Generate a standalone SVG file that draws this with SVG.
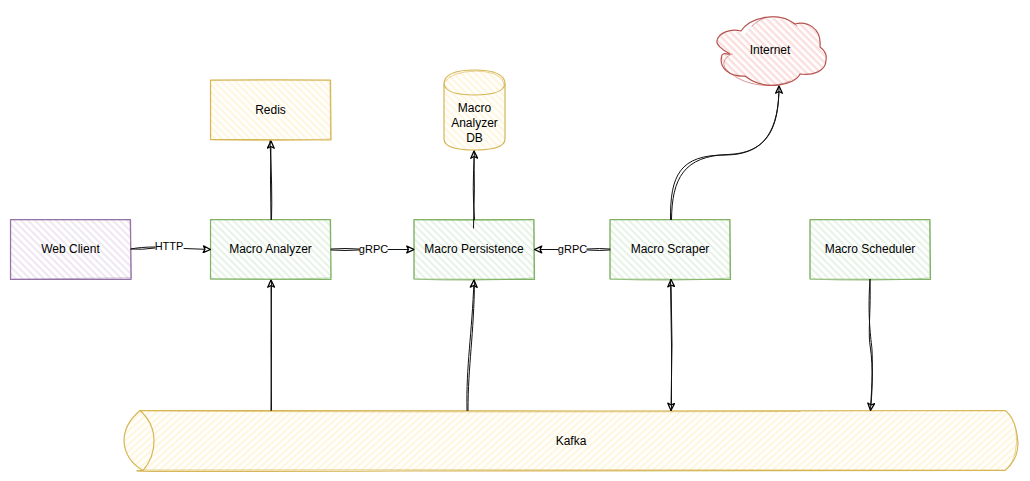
<svg xmlns="http://www.w3.org/2000/svg" width="1030" height="481" viewBox="0 0 1030 481">
<style>
text{font-family:"Liberation Sans",Arial,sans-serif;font-size:12px;fill:#000;text-anchor:middle}
text.e{font-size:11px}
.g{stroke:#82b366}.p{stroke:#9673a6}.y{stroke:#d6b656}.r{stroke:#b85450}
.o{fill:none;stroke-width:1.200;stroke-linejoin:round;stroke-linecap:round}
.t{stroke-width:.8;stroke-opacity:.75}
.c path{fill:none;stroke:#111;stroke-width:1;stroke-linecap:round}
</style>
<defs>
<pattern id="hg" width="5" height="5" patternUnits="userSpaceOnUse" patternTransform="rotate(45)"><rect width="5" height="5" fill="#fff"/><rect width="5" height="2.200" fill="#d5e8d4" opacity=".55"/></pattern>
<pattern id="hp" width="5" height="5" patternUnits="userSpaceOnUse" patternTransform="rotate(45)"><rect width="5" height="5" fill="#fff"/><rect width="5" height="2.200" fill="#e1d5e7" opacity=".55"/></pattern>
<pattern id="hy" width="5" height="5" patternUnits="userSpaceOnUse" patternTransform="rotate(45)"><rect width="5" height="5" fill="#fff"/><rect width="5" height="2.200" fill="#fff2cc" opacity=".65"/></pattern>
<pattern id="hk" width="5" height="5" patternUnits="userSpaceOnUse" patternTransform="rotate(-42)"><rect width="5" height="5" fill="#fff"/><rect width="5" height="2.200" fill="#fff2cc" opacity=".65"/></pattern>
<pattern id="hr" width="5" height="5" patternUnits="userSpaceOnUse" patternTransform="rotate(45)"><rect width="5" height="5" fill="#fff"/><rect width="5" height="2.400" fill="#f8cecc" opacity=".65"/></pattern>
<marker id="a" viewBox="0 0 10 10" refX="9.500" refY="5" markerWidth="8.500" markerHeight="8.500" markerUnits="userSpaceOnUse" orient="auto-start-reverse"><path d="M9.500 5L1 1L3 5L1 9Z" fill="#fff" stroke="#000" stroke-width="1.500" stroke-linejoin="round"/></marker>
</defs>

<g id="kafka">
<path d="M140 410.500H1005Q1018 425 1018 443Q1018 460 1005 470.500H140Q124 458 124 441Q124 425 140 410.500Z" fill="url(#hk)"/>
<path class="o y" d="M140 410.500Q300 411.500 600 411T1005 410.500Q1016 418 1018 443Q1018 460 1005 470.500Q700 470 400 471T142 470.500"/>
<path class="o y t" d="M140 411Q400 412.500 800 411.500M142 470Q500 469.500 1004 470M1016 430Q1019 455 1008 468"/>
<path class="o y" d="M140 410.500Q154 423 154 441Q154 458 143 470.500Q125 460 124 441Q124 424 140 410.500Z"/>
<text x="571" y="445">Kafka</text>
</g>

<g id="web-client">
<rect x="10.500" y="219.500" width="120" height="60" fill="url(#hp)"/>
<path class="o p" d="M10.500 219.500H130.500L131 279.500H10.500Z"/>
<path class="o p t" d="M11 220H130L131.500 278L11 279Z"/>
<text x="70.500" y="253">Web Client</text>
</g>

<g id="macro-analyzer">
<rect x="210.500" y="219.500" width="120" height="60" fill="url(#hg)"/>
<path class="o g" d="M210.500 219.500H330.500L331 279.500L210.500 279Z"/>
<path class="o g t" d="M211 220H330L331 278Q270 280.500 211 279Z"/>
<text x="270.500" y="253">Macro Analyzer</text>
</g>

<g id="macro-persistence">
<rect x="414" y="219.500" width="120" height="60" fill="url(#hg)"/>
<path class="o g" d="M414 219.500H534L534.500 279.500L414 279Z"/>
<path class="o g t" d="M414.500 220Q470 221 533.500 220L534 278Q470 282 414.500 279Z"/>
<text x="474" y="253">Macro Persistence</text>
</g>

<g id="macro-scraper">
<rect x="610" y="219.500" width="120" height="60" fill="url(#hg)"/>
<path class="o g" d="M610 219.500H730L730.500 279.500L610 279Z"/>
<path class="o g t" d="M610.500 220H729.500L730 278Q670 282 610.500 279Z"/>
<text x="670" y="253">Macro Scraper</text>
</g>

<g id="macro-scheduler">
<rect x="810" y="219.500" width="120" height="60" fill="url(#hg)"/>
<path class="o g" d="M810 219.500H930L930.500 279.500L810 279Z"/>
<path class="o g t" d="M810.500 220H929.500L930 278Q870 282 810.500 279Z"/>
<text x="870" y="253">Macro Scheduler</text>
</g>

<g id="redis">
<rect x="210.500" y="80" width="120" height="60" fill="url(#hy)"/>
<path class="o y" d="M210.500 80H330.500L331 140L210.500 139.500Z"/>
<path class="o y t" d="M211 80.500Q270 78.500 330 80.500L330.500 139Q270 142 211 140Z"/>
<text x="270.500" y="114">Redis</text>
</g>

<g id="macro-analyzer-db">
<path d="M444 84Q444 70 474.500 70Q505 70 505 84V139Q505 150 474.500 150Q444 150 444 139Z" fill="url(#hy)"/>
<path class="o y" d="M444 84Q444 70 474.500 70Q505 70 505 84V139Q505 150 474.500 150Q444 150 444 139Z"/>
<path class="o y" d="M444 84Q446 95 474.500 95Q503 95 505 84"/>
<path class="o y t" d="M445 82Q450 72 476 71Q503 72 504 85"/>
<text x="474.500" y="112">Macro</text>
<text x="474.500" y="127">Analyzer</text>
<text x="474.500" y="142">DB</text>
</g>

<g id="internet">
<path d="M745 34C752 20 775 12 795 24C806 22 822 27 820 47C822 51 826 55 826 60C828 70 815 76 800 74C795 85 765 92 745 76C730 76 715 66 722 55C728 54 728 54 730 54C722 50 716 44 717 41C720 33 733 28 745 34Z" fill="url(#hr)"/>
<path class="o r" d="M741 31C750 17 778 11 795 24C806 21 822 27 820 47C824 50 827 55 826 60C826 71 813 76 800 74C795 85 765 92 745 76C730 77 718 68 722 55C724 52 727 55 730 54C722 50 716 44 717 41C718 33 731 28 741 31Z"/>
<path class="o r t" d="M752 26C765 13 785 14 797 26M732 54C722 58 720 68 733 75C745 84 770 90 790 81"/>
<text x="770" y="54">Internet</text>
</g>

<g id="connectors" class="c">
<path d="M131 249Q140 247 155 247M131 249Q142 250 155 248M184 248.500L210.500 249.500" marker-end="url(#a)"/>
<path d="M271 219.500Q270 180 271 141" marker-end="url(#a)"/>
<path d="M271.500 219.500Q272.500 190 270 141"/>
<path d="M331 249Q345 248 359 249M331 250Q345 251 359 250M388 249.500L414 249.500" marker-end="url(#a)"/>
<path d="M473.500 228Q475 190 474 151" marker-end="url(#a)"/>
<path d="M474.500 219.500Q472 190 474.500 151"/>
<path d="M610 249Q600 248 587 249M610 250Q600 251 587 250M558 249.500L534.500 249.500" marker-end="url(#a)"/>
<path d="M670.500 219.500C670 175 680 155 725 155C765 155 779 130 779 86" marker-end="url(#a)"/>
<path d="M671.500 219.500C672 178 684 156 728 154.500C768 153 779 128 779 86"/>
<path d="M271 410.500Q272 345 271 280" marker-end="url(#a)"/>
<path d="M271.500 410Q270.500 345 271.500 281"/>
<path d="M467 410.500C466 365 472 335 474 280" marker-end="url(#a)"/>
<path d="M468 410.500C468 365 474 335 474.500 280"/>
<path d="M671 279.500Q673 345 671 410.500" marker-start="url(#a)" marker-end="url(#a)"/>
<path d="M670.500 280Q672 345 671.500 410"/>
<path d="M870 279.500C867 320 872 345 872 350C873 375 872 395 870.500 410.500" marker-end="url(#a)"/>
<path d="M870 279.500C871 310 868 330 870 345C874 370 871 395 870.500 410"/>
<text class="e" x="169" y="250">HTTP</text>
<text class="e" x="373.500" y="253">gRPC</text>
<text class="e" x="572.500" y="253">gRPC</text>
</g>
</svg>
